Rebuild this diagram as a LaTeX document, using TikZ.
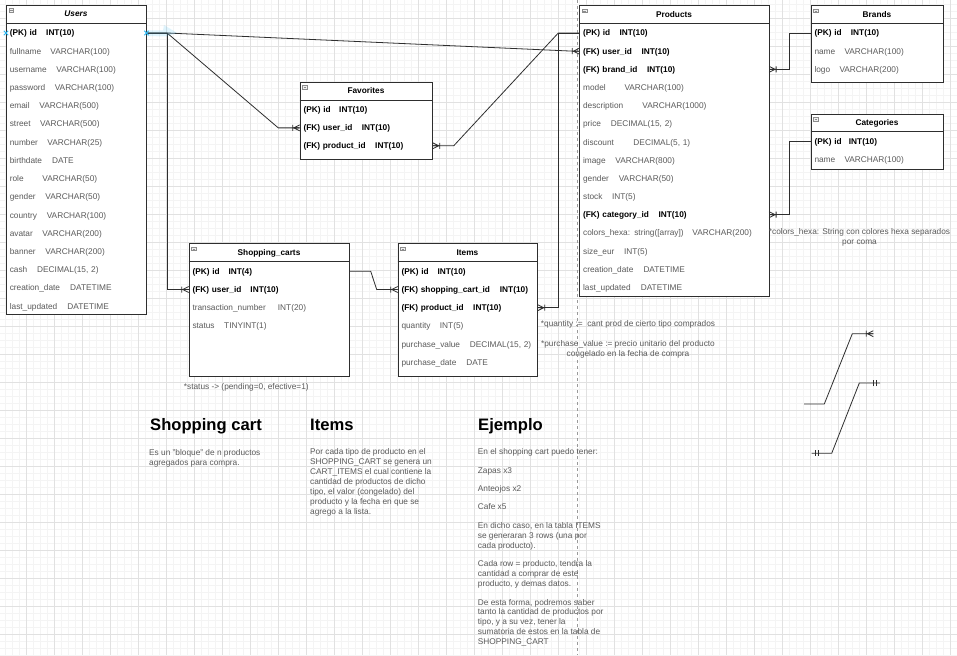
\documentclass[tikz,border=0pt]{standalone}
\usepackage{fontspec}
\setmainfont{Liberation Sans}
\usetikzlibrary{calc}

\definecolor{gridmin}{HTML}{F4F4F4}
\definecolor{gridmaj}{HTML}{E1E1E1}
\definecolor{tblline}{HTML}{2E2E2E}
\definecolor{fieldtxt}{HTML}{5A5A5A}
\definecolor{selblue}{HTML}{29B6F2}
\newcommand{\erfont}{\fontsize{8.3}{10}\selectfont}
% frame, header line, icon and title of one table
\newcommand{\erbox}[6]{%
  \node[erframe, minimum width=#4pt, minimum height=#5pt] (#1) at (#2,#3) {};
  \draw[erline] (#2,#3+18) -- ++(#4,0);
  \draw[icon] (#2+3,#3+3.7) rectangle ++(4.6,3.6);
  \draw[icon] (#2+3.9,#3+5.5) -- ++(2.8,0);
  \node[tbltitle] (#1-title) at (#2+#4/2,#3+9) {#6};}
\newcommand{\crowmark}[2]{\draw[rel, shift={(#1)}, rotate=#2]
  (0,-3) -- (6,0) -- (0,3) (0,0) -- (6,0) (7,-3) -- (7,3);}
\newcommand{\onemark}[2]{\draw[rel, shift={(#1)}, rotate=#2]
  (3.5,-3) -- (3.5,3) (6.3,-3) -- (6.3,3);}

\begin{document}
\begin{tikzpicture}[x=1pt, y=-1pt,
    erline/.style={draw=tblline, line width=0.9pt},
    erframe/.style={erline, fill=white, anchor=north west, inner sep=0},
    icon/.style={draw=black!45, fill=black!6, line width=0.5pt},
    tbltitle/.style={font=\erfont\bfseries, text height=6pt, text depth=0pt, inner sep=0},
    keyrow/.style={font=\erfont\bfseries, text=black},
    fieldrow/.style={font=\erfont, text=fieldtxt},
    rowbox/.style={anchor=west, inner xsep=3.6pt, inner ysep=0, text height=6pt, text depth=0pt, text width=#1, align=left},
    rel/.style={draw=tblline, line width=0.8pt},
    note/.style={font=\erfont, text=fieldtxt, inner sep=0},
    heading/.style={font=\fontsize{16.6}{20}\selectfont\bfseries, text=black, anchor=base west, inner sep=0},
    minorline/.style={draw=gridmin, line width=0.6pt},
    majorline/.style={draw=gridmaj, line width=0.8pt},
    pagebreak/.style={draw=black!40, line width=0.7pt, dash pattern=on 3pt off 3pt},
    selmark/.style={draw=selblue, line width=0.9pt}]
  \useasboundingbox (0,0) rectangle (957,655);
  \fill[white] (0,0) rectangle (957,655);

  % grid
  \foreach \gx in {0,...,137} \draw[minorline] (\gx*7-1.7,0) -- (\gx*7-1.7,655);
  \foreach \gy in {0,...,93} \draw[minorline] (0,\gy*7+4.3) -- (957,\gy*7+4.3);
  \foreach \gx in {0,...,34} \draw[majorline] (\gx*28-1.7,0) -- (\gx*28-1.7,655);
  \foreach \gy in {0,...,23} \draw[majorline] (0,\gy*28+18.3) -- (957,\gy*28+18.3);
  \draw[pagebreak] (577.7,0) -- (577.7,655);

  % Users
  \erbox{users}{6}{5}{140}{309}{\itshape Users}
  \foreach \i/\nm/\kind/\dx/\a/\b in {0/id/keyrow/36.4/{(PK) id}/{INT(10)},
      1/fullname/fieldrow/40.7/fullname/{VARCHAR(100)}, 2/username/fieldrow/46.7/username/{VARCHAR(100)},
      3/password/fieldrow/45/password/{VARCHAR(100)}, 4/email/fieldrow/29.7/email/{VARCHAR(500)},
      5/street/fieldrow/30.4/street/{VARCHAR(500)}, 6/number/fieldrow/37.7/number/{VARCHAR(25)},
      7/birth/fieldrow/42.4/birthdate/DATE, 8/role/fieldrow/32.7/role/{VARCHAR(50)},
      9/gender/fieldrow/35.7/gender/{VARCHAR(50)}, 10/country/fieldrow/37/country/{VARCHAR(100)},
      11/avatar/fieldrow/32.7/avatar/{VARCHAR(200)}, 12/banner/fieldrow/35.7/banner/{VARCHAR(200)},
      13/cash/fieldrow/27.4/cash/{DECIMAL(15, 2)}, 14/created/fieldrow/60.4/{creation\_date}/DATETIME,
      15/updated/fieldrow/57.7/{last\_updated}/DATETIME}
    \node[rowbox=132.8pt, \kind] (users-\nm) at (6,33+18.2*\i) {\makebox[\dx pt][l]{\a}\b};

  % Favorites
  \erbox{fav}{299.7}{82}{132.6}{77}{Favorites}
  \foreach \i/\nm/\dx/\a in {0/id/35.7/{(PK) id}, 1/userid/58.4/{(FK) user\_id}, 2/prodid/71.7/{(FK) product\_id}}
    \node[rowbox=125.4pt, keyrow] (fav-\nm) at (299.7,110+17.9*\i) {\makebox[\dx pt][l]{\a}INT(10)};

  % Products
  \erbox{prod}{579.3}{5.3}{189.4}{290.7}{Products}
  \foreach \i/\nm/\kind/\dx/\a/\b in {0/id/keyrow/36.4/{(PK) id}/{INT(10)},
      1/userid/keyrow/58.4/{(FK) user\_id}/{INT(10)}, 2/brandid/keyrow/64/{(FK) brand\_id}/{INT(10)},
      3/model/fieldrow/41.4/model/{VARCHAR(100)}, 4/descr/fieldrow/59.4/description/{VARCHAR(1000)},
      5/price/fieldrow/27.7/price/{DECIMAL(15, 2)}, 6/discount/fieldrow/50.4/discount/{DECIMAL(5, 1)},
      7/image/fieldrow/32.4/image/{VARCHAR(800)}, 8/gender/fieldrow/35.7/gender/{VARCHAR(50)},
      9/stock/fieldrow/29/stock/{INT(5)}, 10/catid/keyrow/75.4/{(FK) category\_id}/{INT(10)},
      11/colors/fieldrow/109.4/{colors\_hexa: string([array])}/{VARCHAR(200)},
      12/size/fieldrow/41/{size\_eur}/{INT(5)}, 13/created/fieldrow/60.4/{creation\_date}/DATETIME,
      14/updated/fieldrow/57.7/{last\_updated}/DATETIME}
    \node[rowbox=182.2pt, \kind] (prod-\nm) at (579.3,33+18.17*\i) {\makebox[\dx pt][l]{\a}\b};

  % Brands
  \erbox{brands}{810.7}{5.3}{132.6}{76.7}{Brands}
  \foreach \i/\nm/\kind/\dx/\a/\b in {0/id/keyrow/36.4/{(PK) id}/{INT(10)},
      1/name/fieldrow/30/name/{VARCHAR(100)}, 2/logo/fieldrow/25/logo/{VARCHAR(200)}}
    \node[rowbox=125.4pt, \kind] (brands-\nm) at (810.7,33+18.2*\i) {\makebox[\dx pt][l]{\a}\b};

  % Categories
  \erbox{cat}{810.7}{113.7}{132.6}{55.6}{Categories}
  \foreach \i/\nm/\kind/\dx/\a/\b in {0/id/keyrow/34.4/{(PK) id}/{INT(10)},
      1/name/fieldrow/30/name/{VARCHAR(100)}}
    \node[rowbox=125.4pt, \kind] (cat-\nm) at (810.7,141.3+18*\i) {\makebox[\dx pt][l]{\a}\b};

  % Shopping_carts
  \erbox{cart}{188.7}{243.3}{160.6}{132.7}{Shopping\_carts}
  \foreach \i/\nm/\kind/\dx/\a/\b in {0/id/keyrow/36/{(PK) id}/{INT(4)},
      1/userid/keyrow/58/{(FK) user\_id}/{INT(10)},
      2/trans/fieldrow/85.4/{transaction\_number}/{INT(20)}, 3/status/fieldrow/31.7/status/{TINYINT(1)}}
    \node[rowbox=153.4pt, \kind] (cart-\nm) at (188.7,271.3+18.2*\i) {\makebox[\dx pt][l]{\a}\b};

  % Items
  \erbox{items}{397.7}{243.3}{139.6}{132.7}{Items}
  \foreach \i/\nm/\kind/\dx/\a/\b in {0/id/keyrow/36/{(PK) id}/{INT(10)},
      1/cartid/keyrow/98.4/{(FK) shopping\_cart\_id}/{INT(10)},
      2/prodid/keyrow/71.7/{(FK) product\_id}/{INT(10)},
      3/qty/fieldrow/38.4/quantity/{INT(5)}, 4/value/fieldrow/68.4/{purchase\_value}/{DECIMAL(15, 2)},
      5/date/fieldrow/65/{purchase\_date}/DATE}
    \node[rowbox=132.4pt, \kind] (items-\nm) at (397.7,271.3+18.2*\i) {\makebox[\dx pt][l]{\a}\b};

  % relations
  \draw[rel] (users-id.east) -- ++(20.7,0) -- ($(prod-userid.west)+(-6,0)$) -- (prod-userid.west);
  \draw[rel] (users-id.east) -- ++(20.7,0) -- ($(fav-userid.west)+(-21.4,0)$) -- (fav-userid.west);
  \draw[rel] (users-id.east) -- ++(20.7,0) |- (cart-userid.west);
  \draw[rel] (fav-prodid.east) -- ++(21,0) -- ($(prod-id.west)+(-21,0)$) -- (prod-id.west);
  \draw[rel] (cart-id.east) -- ++(21,0) -- ($(items-cartid.west)+(-21,0)$) -- (items-cartid.west);
  \draw[rel] (items-prodid.east) -- ++(21,0) |- (prod-id.west);
  \draw[rel] (prod-brandid.east) -- ++(20.3,0) |- (brands-id.west);
  \draw[rel] (prod-catid.east) -- ++(20.3,0) |- (cat-id.west);
  \crowmark{prod-userid.west}{180}
  \crowmark{fav-userid.west}{180}
  \crowmark{cart-userid.west}{180}
  \crowmark{fav-prodid.east}{0}
  \crowmark{items-cartid.west}{180}
  \crowmark{items-prodid.east}{0}
  \crowmark{prod-brandid.east}{0}
  \crowmark{prod-catid.east}{0}

  % selection on Users id
  \fill[selblue, opacity=0.15] (146,30.5) -- (163,30.5) -- (164,25) -- (177,33) -- (166,36.5) -- (146,36) -- cycle;
  \foreach \p in {users-id.west, users-id.east}
    \draw[selmark] ($(\p)+(-2.2,-2.2)$) -- ++(4.4,4.4) ($(\p)+(-2.2,2.2)$) -- ++(4.4,-4.4);

  % notation legend
  \coordinate (lgA1) at (804,404);
  \coordinate (lgA2) at (873.3,333.7);
  \coordinate (lgB1) at (811.7,453.3);
  \coordinate (lgB2) at (880,383);
  \draw[rel] (lgA1) -- ++(20.3,0) -- ($(lgA2)+(-21,0)$) -- (lgA2);
  \draw[rel] (lgB1) -- ++(20,0) -- ($(lgB2)+(-20.7,0)$) -- (lgB2);
  \crowmark{lgA2}{180}
  \onemark{lgB1}{0}
  \onemark{lgB2}{180}

  % notes
  \node[note, anchor=base west] (n-status) at (183.7,389) {*status -> (pending=0, efective=1)};
  \node[note, align=center, anchor=north] (n-items) at (628,320.3) {*quantity :=\ \ cant prod de cierto tipo comprados\\[10pt]*purchase\_value := precio unitario del producto\\congelado en la fecha de compra};
  \node[note, align=center, anchor=north] (n-colors) at (859.5,228.3) {*colors\_hexa: String con colores hexa separados\\por coma};

  \node[heading] (h-cart) at (150,430) {Shopping cart};
  \node[heading] (h-items) at (310,430) {Items};
  \node[heading] (h-example) at (478,430) {Ejemplo};
  \node[note, anchor=north west, align=left] (p-cart) at (149,449.3) {Es un "bloque" de n productos\\agregados para compra.};
  \node[note, anchor=north west, align=left] (p-items) at (310,448.7) {Por cada tipo de producto en el\\SHOPPING\_CART se genera un\\CART\_ITEMS el cual contiene la\\cantidad de productos de dicho\\tipo, el valor (congelado) del\\producto y la fecha en que se\\agrego a la lista.};
  \node[note, anchor=north west, align=left, font=\fontsize{8.3}{9.75}\selectfont] (p-example) at (477.7,448.7) {En el shopping cart puedo tener:\\[8.6pt]Zapas x3\\[8.6pt]Anteojos x2\\[8.6pt]Cafe x5\\[9pt]En dicho caso, en la tabla ITEMS\\se generaran 3 rows (una por\\cada producto).\\[9pt]Cada row = producto, tendra la\\cantidad a comprar de este\\producto, y demas datos.\\[9pt]De esta forma, podremos saber\\tanto la cantidad de productos por\\tipo, y a su vez, tener la\\sumatoria de estos en la tabla de\\SHOPPING\_CART};
\end{tikzpicture}
\end{document}
